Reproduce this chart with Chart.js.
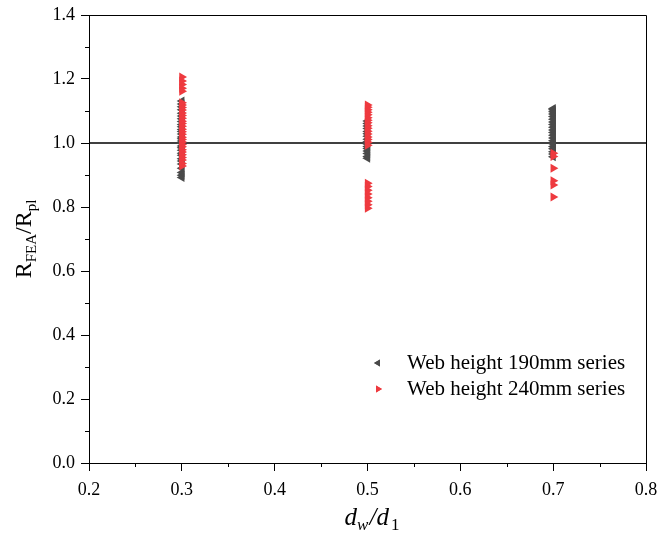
<!DOCTYPE html>
<html>
<head>
<meta charset="utf-8">
<script src="https://cdn.jsdelivr.net/npm/chart.js@4.4.1/dist/chart.umd.min.js"></script>
<style>
  html, body { margin: 0; padding: 0; background: #ffffff; }
  #wrap { width: 662px; height: 536px; position: relative; }
</style>
</head>
<body>
<div id="wrap"><canvas id="c" width="662" height="536"></canvas></div>
<script>
// ---- data ----
const seriesNames = ['Web height 190mm series', 'Web height 240mm series'];
const xPositions = [0.3, 0.5, 0.7];

// Web height 190mm series (dark grey, left-pointing triangles)
const s190_x03 = [0.892, 0.899, 0.908, 0.921, 0.934, 0.944, 0.951, 0.962, 0.968, 0.977, 0.985, 0.991, 0.999, 1.006, 1.013, 1.019, 1.028, 1.036, 1.042, 1.051, 1.058, 1.067, 1.076, 1.084, 1.093, 1.104, 1.113, 1.122, 1.131];
const s190_x05 = [0.952, 0.958, 0.967, 0.975, 0.983, 0.989, 0.997, 1.004, 1.012, 1.021, 1.029, 1.036, 1.045, 1.053, 1.061, 1.069];
const s190_x07 = [0.957, 0.966, 0.973, 0.982, 0.989, 0.998, 1.007, 1.016, 1.024, 1.033, 1.041, 1.049, 1.058, 1.066, 1.074, 1.083, 1.091, 1.098, 1.104, 1.108];

// Web height 240mm series (red, right-pointing triangles)
const s240_x03 = [0.928, 0.936, 0.947, 0.955, 0.963, 0.972, 0.979, 0.988, 0.995, 1.003, 1.011, 1.018, 1.027, 1.035, 1.043, 1.052, 1.061, 1.068, 1.077, 1.086, 1.094, 1.103, 1.111, 1.119, 1.126, 1.162, 1.171, 1.183, 1.194, 1.206];
const s240_x05 = [0.796, 0.807, 0.818, 0.829, 0.841, 0.852, 0.864, 0.874, 0.993, 1.002, 1.011, 1.019, 1.028, 1.037, 1.046, 1.054, 1.063, 1.071, 1.079, 1.088, 1.096, 1.104, 1.112, 1.119];
const s240_x07 = [0.831, 0.869, 0.882, 0.921, 0.958, 0.968];

// reference line and axes
const refLineY = 1.0;
const xRange = [0.2, 0.8];
const yRange = [0.0, 1.4];
const xTickStep = 0.1;
const yTickStep = 0.2;

const GREY = '#4a4a4a';
const RED = '#ee3a3f';

function toPoints(x, arr) { return arr.map(v => ({ x: x, y: v })); }

const data190 = [].concat(
  toPoints(xPositions[0], s190_x03),
  toPoints(xPositions[1], s190_x05),
  toPoints(xPositions[2], s190_x07));
const data240 = [].concat(
  toPoints(xPositions[0], s240_x03),
  toPoints(xPositions[1], s240_x05),
  toPoints(xPositions[2], s240_x07));

const SERIF = '"Liberation Serif", "Times New Roman", serif';

// ---- plugins ----
const frameAndMinor = {
  id: 'frameAndMinor',
  afterDatasetsDraw(chart) {
    const ctx = chart.ctx, a = chart.chartArea;
    const xs = chart.scales.x, ys = chart.scales.y;
    ctx.save();
    ctx.strokeStyle = '#000';
    ctx.lineWidth = 1;
    ctx.beginPath();
    ctx.moveTo(Math.round(a.left) + 0.5, Math.round(a.top) + 0.5);
    ctx.lineTo(Math.round(a.right) + 0.5, Math.round(a.top) + 0.5);
    ctx.lineTo(Math.round(a.right) + 0.5, Math.round(a.bottom) + 0.5);
    ctx.stroke();
    ctx.beginPath();
    const yt = ys.ticks;
    for (let i = 0; i < yt.length - 1; i++) {
      const v = (yt[i].value + yt[i + 1].value) / 2;
      const p = Math.round(ys.getPixelForValue(v)) + 0.5;
      ctx.moveTo(a.left - 4, p); ctx.lineTo(a.left, p);
    }
    const xt = xs.ticks;
    for (let i = 0; i < xt.length - 1; i++) {
      const v = (xt[i].value + xt[i + 1].value) / 2;
      const p = Math.round(xs.getPixelForValue(v)) + 0.5;
      ctx.moveTo(p, a.bottom); ctx.lineTo(p, a.bottom + 4);
    }
    ctx.stroke();
    ctx.restore();
  }
};

function drawRich(ctx, parts, cx, cy) {
  let total = 0;
  parts.forEach(p => {
    ctx.font = (p.italic ? 'italic ' : '') + p.size + 'px ' + SERIF;
    p.w = ctx.measureText(p.t).width + (p.gap || 0);
    total += p.w;
  });
  let x = cx - total / 2;
  parts.forEach(p => {
    ctx.font = (p.italic ? 'italic ' : '') + p.size + 'px ' + SERIF;
    ctx.fillText(p.t, x, cy + (p.dy || 0));
    x += p.w;
  });
}

const titlesAndLegend = {
  id: 'titlesAndLegend',
  afterDraw(chart) {
    const ctx = chart.ctx, a = chart.chartArea;
    ctx.save();
    ctx.fillStyle = '#000';
    ctx.textBaseline = 'alphabetic';
    ctx.textAlign = 'left';
    // Y title
    ctx.save();
    ctx.translate(31, 239);
    ctx.rotate(-Math.PI / 2);
    drawRich(ctx, [
      { t: 'R', size: 24 },
      { t: 'FEA', size: 15, dy: 5 },
      { t: '/R', size: 24 },
      { t: 'pl', size: 15, dy: 5 }
    ], 0, 0);
    ctx.restore();
    // X title
    drawRich(ctx, [
      { t: 'd', size: 25, italic: true },
      { t: 'w', size: 17, italic: true, dy: 5, gap: 1 },
      { t: '/', size: 25, italic: true },
      { t: 'd', size: 25, italic: true, gap: 2 },
      { t: '1', size: 17, dy: 5 }
    ], 372, 525);
    // Legend
    const ds = chart.data.datasets;
    const items = [ds[1], ds[2]];
    items.forEach((d, i) => {
      const y = 363 + i * 26;
      ctx.fillStyle = d.backgroundColor;
      ctx.beginPath();
      Chart.helpers.drawPoint(ctx, {
        pointStyle: 'triangle', rotation: d.rotation, radius: 4, borderWidth: 0
      }, 378, y);
      ctx.fill();
      ctx.fillStyle = '#000';
      ctx.font = '21px ' + SERIF;
      ctx.textBaseline = 'middle';
      ctx.fillText(d.label, 407, y);
    });
    ctx.restore();
  }
};

new Chart(document.getElementById('c'), {
  type: 'scatter',
  data: {
    datasets: [
      {
        label: 'ref',
        type: 'line',
        data: [{ x: xRange[0], y: refLineY }, { x: xRange[1], y: refLineY }],
        borderColor: '#000',
        borderWidth: 1.3,
        pointRadius: 0,
        showLine: true,
        order: 3
      },
      {
        label: seriesNames[0],
        data: data190,
        pointStyle: 'triangle',
        rotation: -90,
        pointRadius: 5.2,
        pointHoverRadius: 5.2,
        backgroundColor: GREY,
        borderColor: GREY,
        borderWidth: 0,
        order: 2
      },
      {
        label: seriesNames[1],
        data: data240,
        pointStyle: 'triangle',
        rotation: 90,
        pointRadius: 5.2,
        pointHoverRadius: 5.2,
        backgroundColor: RED,
        borderColor: RED,
        borderWidth: 0,
        order: 1
      }
    ]
  },
  options: {
    responsive: false,
    animation: false,
    events: [],
    layout: { padding: { top: 15, right: 16, left: 0, bottom: 0 } },
    plugins: { legend: { display: false }, tooltip: { enabled: false } },
    scales: {
      x: {
        type: 'linear',
        min: xRange[0], max: xRange[1],
        afterFit(s) { s.height = 73; s.paddingLeft = 0; s.paddingRight = 0; },
        border: { display: true, color: '#000', width: 1 },
        grid: { display: true, drawOnChartArea: false, drawTicks: true, tickLength: 8, color: '#000' },
        ticks: {
          stepSize: xTickStep,
          color: '#000',
          padding: 8,
          maxRotation: 0,
          font: { family: SERIF, size: 18 },
          callback: v => Number(v).toFixed(1)
        }
      },
      y: {
        type: 'linear',
        min: yRange[0], max: yRange[1],
        afterFit(s) { s.width = 89; s.paddingTop = 0; s.paddingBottom = 0; },
        border: { display: true, color: '#000', width: 1 },
        grid: { display: true, drawOnChartArea: false, drawTicks: true, tickLength: 8, color: '#000' },
        ticks: {
          stepSize: yTickStep,
          color: '#000',
          padding: 6,
          font: { family: SERIF, size: 18 },
          callback: v => Number(v).toFixed(1)
        }
      }
    }
  },
  plugins: [frameAndMinor, titlesAndLegend]
});
</script>
</body>
</html>
